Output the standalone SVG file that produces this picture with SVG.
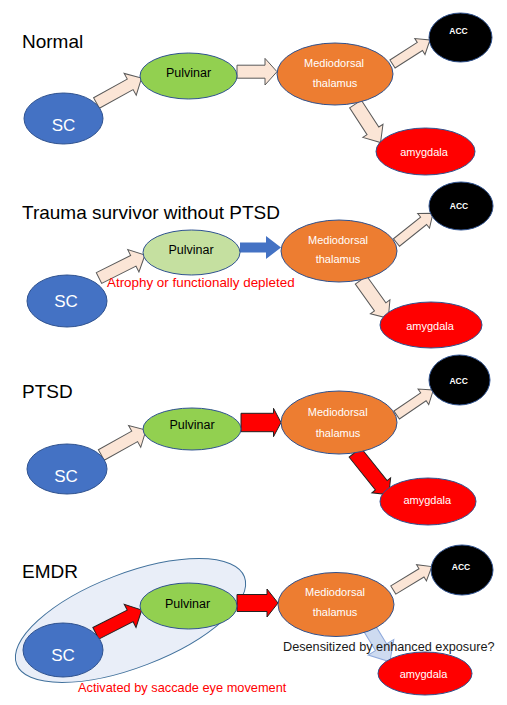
<svg xmlns="http://www.w3.org/2000/svg" width="507" height="705" viewBox="0 0 507 705">
<style>
text{font-family:"Liberation Sans",Arial,sans-serif}
.title{font-size:19px;fill:#000}
.sc{fill:#4472C4;stroke:#2F528F;stroke-width:1}
.pul{fill:#92D050;stroke:#2F528F;stroke-width:1}
.pull{fill:#C5E0A0;stroke:#2F528F;stroke-width:1}
.md{fill:#ED7D31;stroke:#2F528F;stroke-width:1}
.acc{fill:#000;stroke:#2F528F;stroke-width:1}
.amy{fill:#FF0000;stroke:#2F528F;stroke-width:1}
.tsc{font-size:17px;fill:#fff;text-anchor:middle}
.tpul{font-size:12.5px;fill:#000;text-anchor:middle}
.tmd{font-size:11px;fill:#fff;text-anchor:middle}
.tacc{font-size:8.5px;font-weight:bold;fill:#fff;text-anchor:middle}
.tamy{font-size:11px;fill:#fff;text-anchor:middle}
.peach{fill:#FBE5D6;stroke:#595959;stroke-width:1}
.red{fill:#FF0000;stroke:#222;stroke-width:1}
.blue{fill:#4472C4;stroke:none}
.lblue{fill:#C9D7EE;stroke:#8FAADC;stroke-width:1;fill-opacity:0.9}
</style>

<!-- Panel titles -->
<text class="title" x="22" y="48">Normal</text>
<text class="title" x="22" y="219">Trauma survivor without PTSD</text>
<text class="title" x="22" y="398">PTSD</text>
<text class="title" x="22" y="578">EMDR</text>

<!-- EMDR background ellipse -->
<g id="emdr-group">
<ellipse cx="130.5" cy="620.5" rx="122" ry="47" transform="rotate(-21 130.5 620.5)" fill="#DAE3F3" fill-opacity="0.6" stroke="#41719C" stroke-width="1"/>
</g>

<!-- Connectors -->
<g id="connectors">
<!-- Panel 1 -->
<path class="peach" transform="translate(96.5,103) rotate(-29)" d="M0,-6 H38.5 V-12.5 L51.5,0 L38.5,12.5 V6 H0 Z"/>
<path class="peach" transform="translate(237,71.7)" d="M0,-6.5 H28 V-13.3 L40,0 L28,13.3 V6.5 H0 Z"/>
<path class="peach" transform="translate(392.5,64) rotate(-32.6)" d="M0,-4.8 H32.5 V-9.5 L44.5,0 L32.5,9.5 V4.8 H0 Z"/>
<path class="peach" transform="translate(355.5,104) rotate(57)" d="M0,-7 H32 V-12 L46,0 L32,12 V7 H0 Z"/>
<!-- Panel 2 -->
<path class="peach" transform="translate(99,278) rotate(-26.6)" d="M0,-6 H38.4 V-12.5 L51.4,0 L38.4,12.5 V6 H0 Z"/>
<path class="blue" transform="translate(240,247.5)" d="M0,-5 H26 V-11.5 L41,0 L26,11.5 V5 H0 Z"/>
<path class="peach" transform="translate(396.5,242.5) rotate(-38.7)" d="M0,-4.8 H34.7 V-9.5 L46.7,0 L34.7,9.5 V4.8 H0 Z"/>
<path class="peach" transform="translate(361,280) rotate(54.5)" d="M0,-7 H33 V-12 L47,0 L33,12 V7 H0 Z"/>
<!-- Panel 3 -->
<path class="peach" transform="translate(101.3,455) rotate(-29.2)" d="M0,-6 H38.2 V-12.5 L51.2,0 L38.2,12.5 V6 H0 Z"/>
<path class="red" transform="translate(241,422.5)" d="M0,-9.2 H32.5 V-14.2 L40,0 L32.5,14.2 V9.2 H0 Z"/>
<path class="peach" transform="translate(396.7,415) rotate(-34.3)" d="M0,-4.8 H32.3 V-9.5 L44.3,0 L32.3,9.5 V4.8 H0 Z"/>
<path class="red" transform="translate(355,452.5) rotate(51.3)" d="M0,-7.5 H42 V-12 L54,0 L42,12 V7.5 H0 Z"/>
<!-- Panel 4 -->
<path class="red" transform="translate(95.8,633.3) rotate(-26.9)" d="M0,-6.5 H38.5 V-13 L51.5,0 L38.5,13 V6.5 H0 Z"/>
<path class="red" transform="translate(237,603)" d="M0,-8.5 H30 V-14 L41,0 L30,14 V8.5 H0 Z"/>
<path class="peach" transform="translate(393.3,590) rotate(-31.3)" d="M0,-4.8 H33 V-9.5 L45,0 L33,9.5 V4.8 H0 Z"/>
<path class="lblue" transform="translate(367.5,625) rotate(58.7)" d="M0,-6.5 H26 V-15 L43,0 L26,15 V6.5 H0 Z"/>
</g>

<!-- Panel 1 nodes -->
<g id="sc1"><ellipse class="sc" cx="63.5" cy="118.5" rx="39.5" ry="25.5"/><text class="tsc" x="63.5" y="131">SC</text></g>
<g id="pulvinar1"><ellipse class="pul" cx="188.5" cy="76" rx="48.5" ry="23"/><text class="tpul" x="188.5" y="77">Pulvinar</text></g>
<g id="md1"><ellipse class="md" cx="335" cy="74" rx="58" ry="31"/><text class="tmd" x="334" y="67">Mediodorsal</text><text class="tmd" x="335" y="87">thalamus</text></g>
<g id="acc1"><ellipse class="acc" cx="460.5" cy="37.5" rx="31.5" ry="24.5"/><text class="tacc" x="458.5" y="33.5">ACC</text></g>
<g id="amygdala1"><ellipse class="amy" cx="425.5" cy="151.5" rx="49.5" ry="23.5"/><text class="tamy" x="424" y="156">amygdala</text></g>

<!-- Panel 2 nodes -->
<g id="sc2"><ellipse class="sc" cx="67" cy="301" rx="40" ry="26"/><text class="tsc" x="66" y="307">SC</text></g>
<g id="pulvinar2"><ellipse class="pull" cx="191.5" cy="252.5" rx="48.5" ry="22.5"/><text class="tpul" x="191" y="254">Pulvinar</text></g>
<g id="md2"><ellipse class="md" cx="339" cy="251" rx="58" ry="31"/><text class="tmd" x="338" y="244">Mediodorsal</text><text class="tmd" x="338" y="263">thalamus</text></g>
<g id="acc2"><ellipse class="acc" cx="461" cy="206" rx="32" ry="24"/><text class="tacc" x="459" y="208.5">ACC</text></g>
<g id="amygdala2"><ellipse class="amy" cx="431" cy="325" rx="51" ry="23"/><text class="tamy" x="430" y="330">amygdala</text></g>
<text x="107" y="286.5" fill="#FF0000" style="font-size:13.4px">Atrophy or functionally depleted</text>

<!-- Panel 3 nodes -->
<g id="sc3"><ellipse class="sc" cx="67" cy="469" rx="40" ry="25"/><text class="tsc" x="66" y="482">SC</text></g>
<g id="pulvinar3"><ellipse class="pul" cx="192" cy="429" rx="49" ry="21"/><text class="tpul" x="192" y="428.5">Pulvinar</text></g>
<g id="md3"><ellipse class="md" cx="339" cy="422.5" rx="58" ry="31.5"/><text class="tmd" x="337.7" y="416">Mediodorsal</text><text class="tmd" x="338" y="437">thalamus</text></g>
<g id="acc3"><ellipse class="acc" cx="459.5" cy="380" rx="30.5" ry="25"/><text class="tacc" x="458.7" y="383.5">ACC</text></g>
<g id="amygdala3"><ellipse class="amy" cx="428" cy="501.5" rx="48" ry="23.5"/><text class="tamy" x="427.3" y="504">amygdala</text></g>

<!-- Panel 4 nodes -->
<g id="sc4"><ellipse class="sc" cx="63" cy="650" rx="40" ry="27"/><text class="tsc" x="63" y="661">SC</text></g>
<g id="pulvinar4"><ellipse class="pul" cx="188.5" cy="606" rx="48.5" ry="23"/><text class="tpul" x="187.5" y="607.5">Pulvinar</text></g>
<g id="md4"><ellipse class="md" cx="336" cy="604.5" rx="58" ry="32"/><text class="tmd" x="335" y="596">Mediodorsal</text><text class="tmd" x="335" y="616">thalamus</text></g>
<g id="acc4"><ellipse class="acc" cx="462" cy="570" rx="31" ry="25"/><text class="tacc" x="461" y="569.5">ACC</text></g>
<g id="amygdala4"><ellipse class="amy" cx="425" cy="673.5" rx="47" ry="21.5"/><text class="tamy" x="423.5" y="678">amygdala</text></g>
<text x="283" y="651" fill="#1a1a1a" style="font-size:12.7px">Desensitized by enhanced exposure?</text>
<text x="78" y="692" fill="#FF0000" style="font-size:12.8px">Activated by saccade eye movement</text>
</svg>
